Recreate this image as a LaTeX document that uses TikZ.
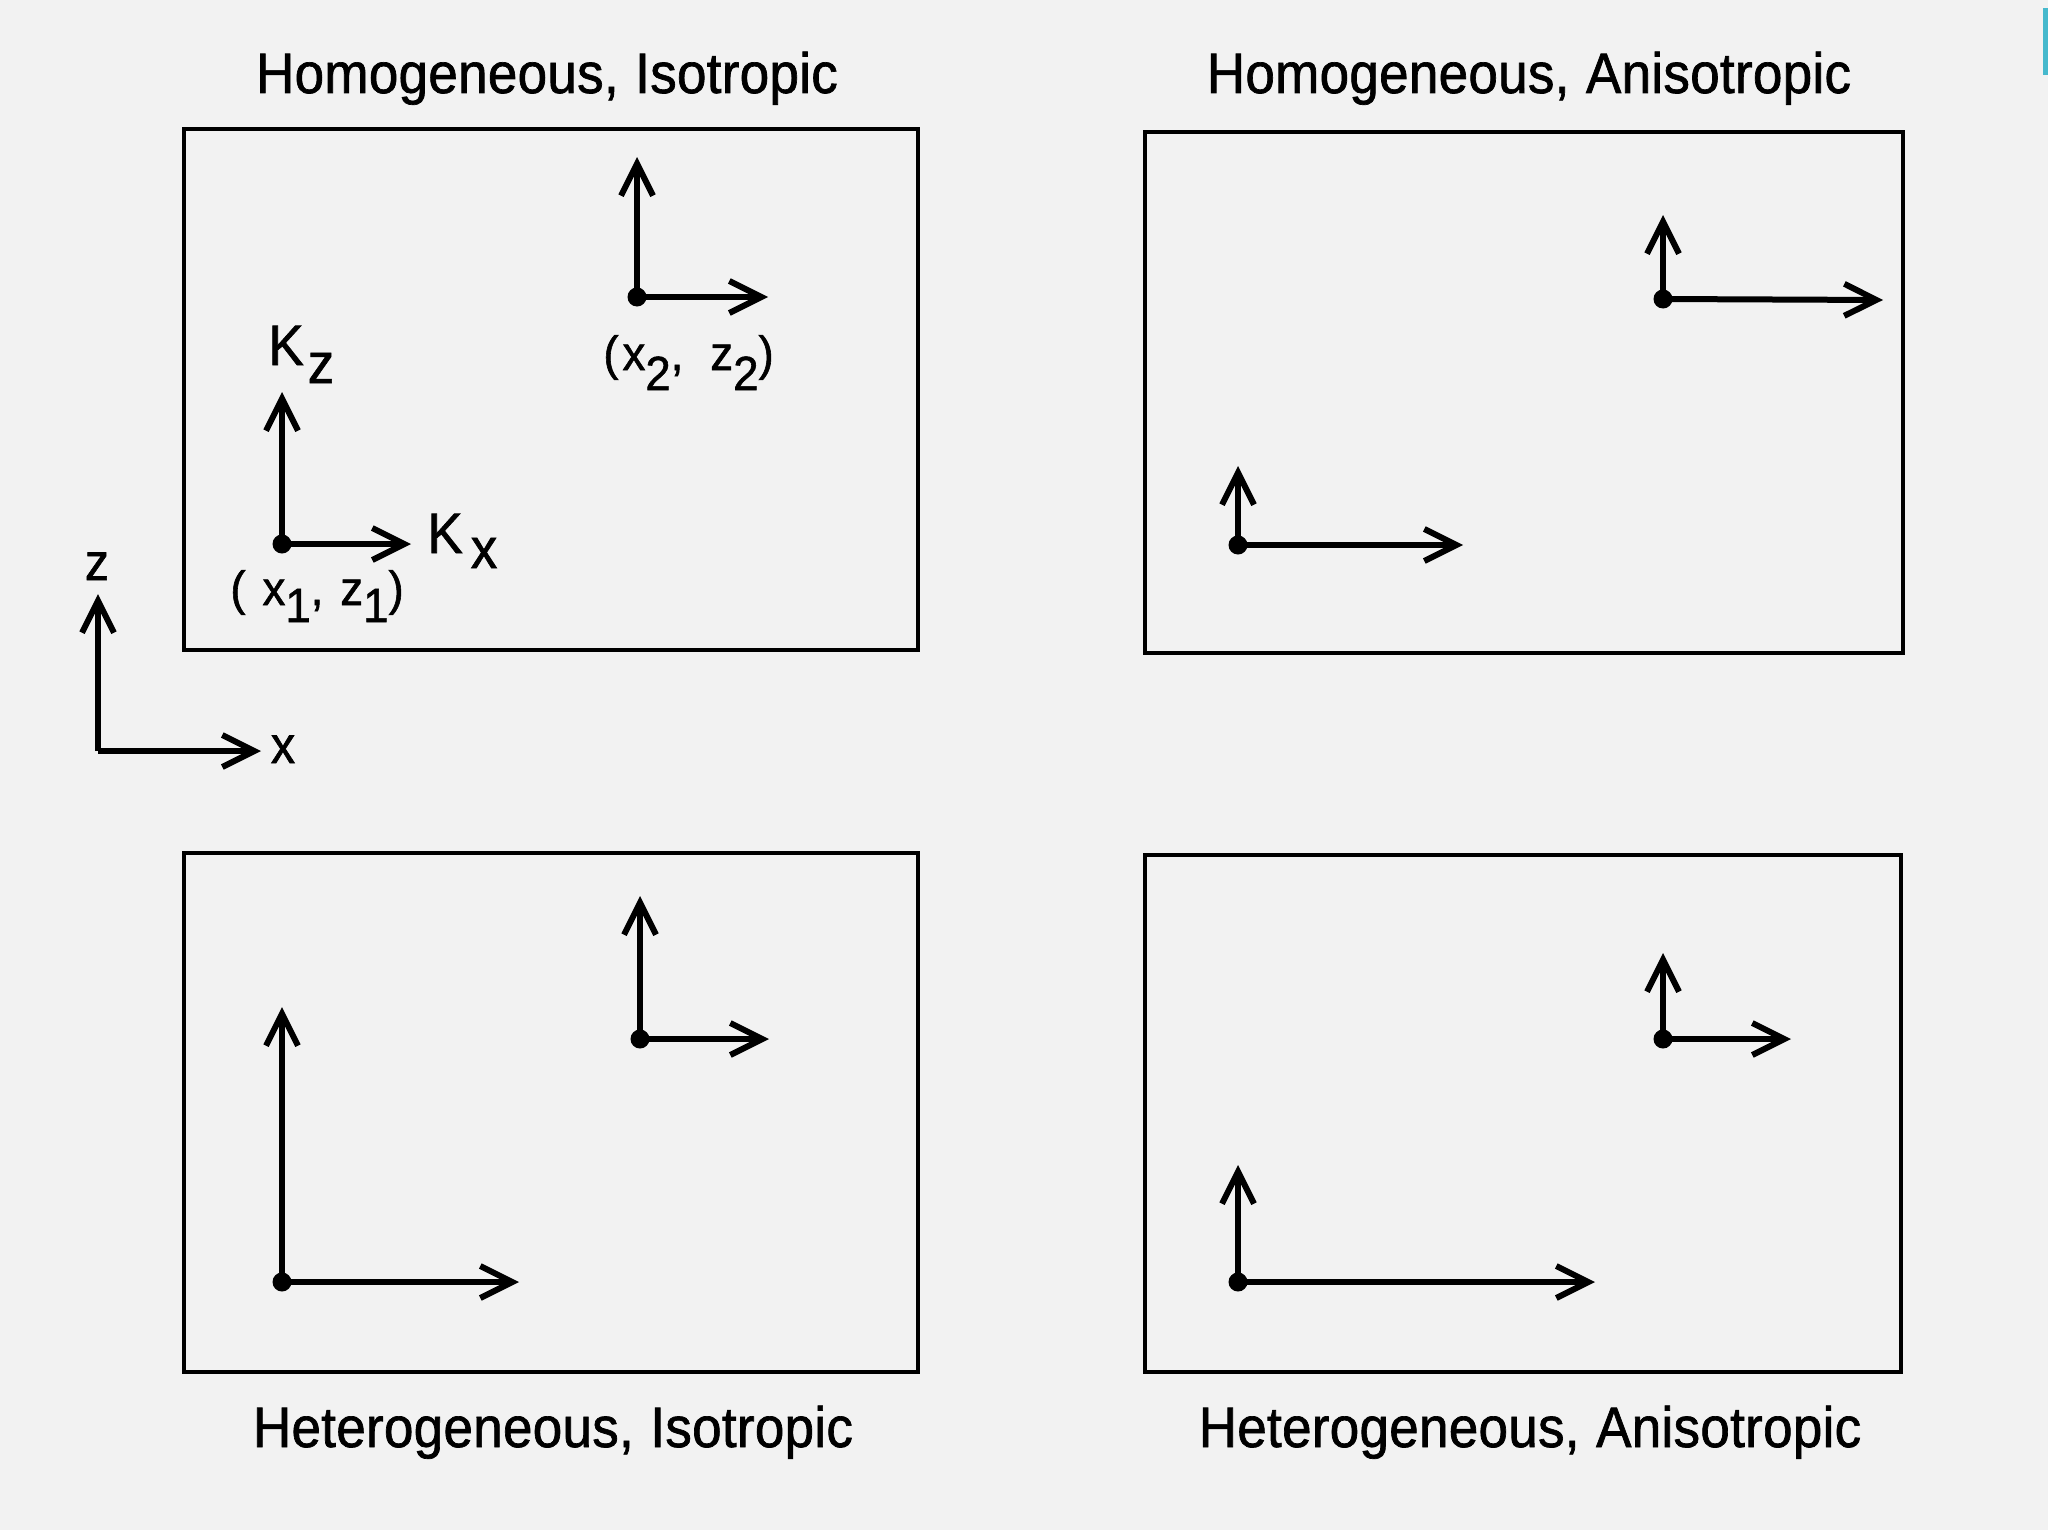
\documentclass[tikz,border=0pt]{standalone}
\usepackage{fontspec}
\setmainfont{Liberation Sans}
\newfontfamily\titlefont[FakeStretch=0.93,LetterSpace=0.5,WordSpace=1.1,FakeBold=1.2]{Liberation Sans}
\newfontfamily\labfont[FakeStretch=0.95,LetterSpace=9,FakeBold=1.2]{Liberation Sans}
\usetikzlibrary{arrows.meta}
\definecolor{bg}{RGB}{242,242,242}
\definecolor{cyanart}{RGB}{70,185,205}
\begin{document}
\begin{tikzpicture}[x=0.5pt,y=-0.5pt,
  frame/.style={draw=black,line width=2.3pt},
  vec/.style={line width=3pt,-{Straight Barb[length=16pt,width=16pt,line width=3pt]}},
  dot/.style={circle,fill=black,inner sep=0pt,minimum size=9.5pt},
  title/.style={anchor=base,inner sep=0pt,font=\titlefont\fontsize{28.5pt}{32pt}\selectfont},
  klab/.style={anchor=base west,inner sep=0pt,font=\titlefont\fontsize{28.5pt}{32pt}\selectfont},
  plab/.style={anchor=base west,inner sep=0pt,font=\labfont\fontsize{24pt}{28pt}\selectfont},
  alab/.style={anchor=base,inner sep=0pt,font=\titlefont\fontsize{26pt}{30pt}\selectfont}]
% background
\fill[bg] (0,0) rectangle (2048,1536);
\useasboundingbox (0,0) rectangle (2048,1536);
\fill[white] (0,1530) rectangle (2048,1536);
\fill[cyanart] (2043,8) rectangle (2048,75);

% titles
\node[title] (t1) at (547,93) {Homogeneous, Isotropic};
\node[title] (t2) at (1529,93) {Homogeneous, Anisotropic};
\node[title] (t3) at (553,1447) {Heterogeneous, Isotropic};
\node[title] (t4) at (1530,1447) {Heterogeneous, Anisotropic};

% frames
\draw[frame] (184,129) rectangle (918,650);
\draw[frame] (1145,132) rectangle (1903,653);
\draw[frame] (184,853) rectangle (918,1372);
\draw[frame] (1145,855) rectangle (1901,1372);

% reference axes
\coordinate (ao) at (98,751);
\coordinate (az) at (98,594);
\coordinate (ax) at (261,751);
\draw[vec] (ao) -- (az);
\draw[vec] (ao) -- (ax);
\node[alab] (zl) at (97,580) {z};
\node[alab] (xl) at (283,763) {x};

% panel 1: homogeneous, isotropic
\node[dot] (p1a) at (637,297) {};
\coordinate (p1au) at (637,157);
\coordinate (p1ar) at (768,297);
\draw[vec] (p1a.center) -- (p1au);
\draw[vec] (p1a.center) -- (p1ar);
\node[dot] (p1b) at (282,544) {};
\coordinate (p1bu) at (282,392);
\coordinate (p1br) at (411,544);
\draw[vec] (p1b.center) -- (p1bu);
\draw[vec] (p1b.center) -- (p1br);
\node[klab] (kz) at (268,365) {K\kern2pt\raisebox{-9pt}{z}};
\node[klab] (kx) at (427,553) {K\kern4pt\raisebox{-7.5pt}{x}};
\node[plab] (c1) at (230,605) {( x\raisebox{-8.5pt}{1}, z\raisebox{-8.5pt}{1})};
\node[plab] (c2) at (603,370) {(\kern2pt x\raisebox{-10pt}{2}, \kern5pt z\raisebox{-10pt}{2})};

% panel 2: homogeneous, anisotropic
\node[dot] (p2a) at (1663,299) {};
\coordinate (p2au) at (1663,215);
\coordinate (p2ar) at (1883,300);
\draw[vec] (p2a.center) -- (p2au);
\draw[vec] (p2a.center) -- (p2ar);
\node[dot] (p2b) at (1238,545) {};
\coordinate (p2bu) at (1238,466);
\coordinate (p2br) at (1463,545);
\draw[vec] (p2b.center) -- (p2bu);
\draw[vec] (p2b.center) -- (p2br);

% panel 3: heterogeneous, isotropic
\node[dot] (p3a) at (640,1039) {};
\coordinate (p3au) at (640,896);
\coordinate (p3ar) at (769,1039);
\draw[vec] (p3a.center) -- (p3au);
\draw[vec] (p3a.center) -- (p3ar);
\node[dot] (p3b) at (282,1282) {};
\coordinate (p3bu) at (282,1007);
\coordinate (p3br) at (519,1282);
\draw[vec] (p3b.center) -- (p3bu);
\draw[vec] (p3b.center) -- (p3br);

% panel 4: heterogeneous, anisotropic
\node[dot] (p4a) at (1663,1039) {};
\coordinate (p4au) at (1663,953);
\coordinate (p4ar) at (1791,1039);
\draw[vec] (p4a.center) -- (p4au);
\draw[vec] (p4a.center) -- (p4ar);
\node[dot] (p4b) at (1238,1282) {};
\coordinate (p4bu) at (1238,1165);
\coordinate (p4br) at (1595,1282);
\draw[vec] (p4b.center) -- (p4bu);
\draw[vec] (p4b.center) -- (p4br);
\end{tikzpicture}
\end{document}
